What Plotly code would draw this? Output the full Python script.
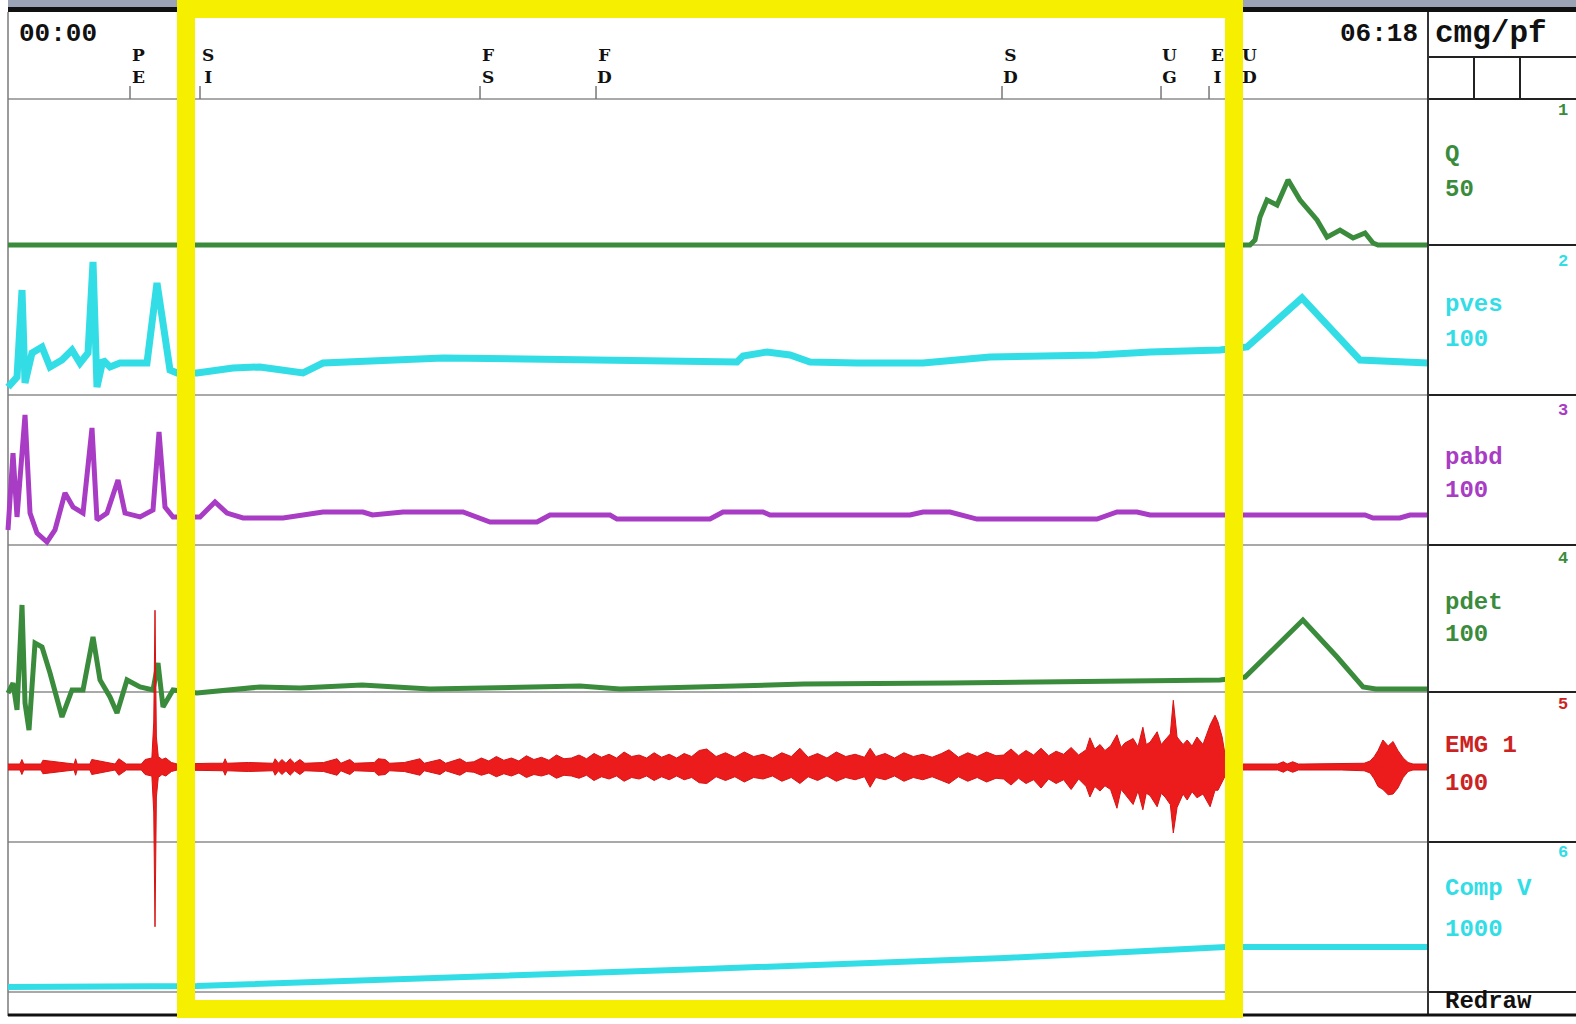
import plotly.graph_objects as go

# ---------------- data ----------------
channels = ["Q", "pves", "pabd", "pdet", "EMG 1", "Comp V"]
channel_scales = ["50", "100", "100", "100", "100", "1000"]
channel_numbers = ["1", "2", "3", "4", "5", "6"]
start_label = "00:00"
end_label = "06:18"
study_label = "cmg/pf"
button_label = "Redraw"
T_END = 378  # seconds (06:18)

event_names = ["PE", "SI", "FS", "FD", "SD", "UG", "EI", "UD"]
event_t = [32.48, 51.11, 125.65, 156.53, 264.6, 306.93, 319.71, 328.4]

# Q (ml/s)
q_t = [0, 330.62, 331.95, 333.28, 335.14, 337.81, 340.74, 343.93, 348.46, 351.12,
       354.58, 358.04, 361.24, 363.37, 364.69, 378]
q_v = [0, 0, 1.7, 9.6, 15.4, 13.7, 22.3, 15.4, 8.6, 2.7, 5.1, 2.4, 4.1, 0.7, 0, 0]

# pves (cmH2O)
pves_t = [0, 2.4, 3.73, 4.53, 6.39, 9.05, 11.18, 14.37, 17.04, 19.17, 21.3, 22.63, 23.69,
          25.29, 27.15, 29.81, 37.0, 39.66, 41.26, 43.12, 44.99, 50.31, 59.9, 67.08, 78.53,
          83.85, 115.8, 194.06, 195.66, 202.05, 208.17, 213.49, 226.0, 243.57, 261.41, 290.0,
          304.0, 322.63, 329.82, 344.46, 359.9, 378]
pves_v = [5.3, 12, 70, 8, 28, 32, 18.7, 23.3, 30, 21.3, 28, 88.7, 5.3, 23.3, 18.7, 21.3,
          21.3, 74.7, 48, 16.7, 14.7, 14.7, 18, 18.7, 14.7, 21.3, 24.7, 22, 26, 28.7, 26.7,
          22, 21.3, 21.3, 25.3, 26.7, 28.7, 30, 32, 64.7, 23.3, 21.3]

# pabd (cmH2O)
pabd_t = [0, 1.33, 2.40, 4.53, 5.86, 7.72, 10.38, 12.51, 15.17, 17.30, 19.97, 22.36, 23.69,
          26.35, 29.28, 31.15, 35.14, 38.60, 40.20, 41.79, 43.92, 51.11, 55.10, 58.30, 62.56,
          73.21, 83.85, 94.50, 97.0, 105.15, 121.12, 128.31, 140.82, 144.28, 160.25, 162.12,
          186.87, 190.33, 200.98, 202.84, 240.11, 243.57, 250.76, 257.95, 289.89, 295.21,
          300.53, 304.0, 361.24, 363.37, 370.5, 373.2, 378]
pabd_v = [10, 61.3, 18.7, 86.7, 21.3, 8, 2, 10, 34.7, 25.3, 21.3, 78, 16.7, 21.3, 43.3, 21.3,
          18.7, 23.3, 75.3, 25.3, 18.7, 18.7, 28.7, 21.3, 18, 18, 22, 22, 20, 22, 22, 15.3,
          15.3, 20, 20, 17.3, 17.3, 22, 22, 20, 20, 22, 22, 17.3, 17.3, 22, 22, 20, 20, 18,
          18, 20, 20]

# pdet (cmH2O)
pdet_t = [0, 1.33, 2.40, 3.73, 4.53, 5.59, 7.19, 9.05, 11.18, 14.37, 17.04, 19.97, 22.63,
          24.49, 27.15, 29.02, 31.68, 35.14, 38.60, 39.93, 41.26, 43.92, 50.31, 59.90, 67.08,
          77.73, 94.23, 112.34, 152.26, 162.91, 184.2, 211.9, 250.8, 290.7, 322.6, 329.3,
          344.7, 353.8, 360.7, 364.1, 378]
pdet_v = [-0.7, 6.1, -12.2, 59.2, -7.5, -25.9, 33.3, 30.6, 12.9, -17, 1.4, 1.4, 37.4, 8.2,
          -3.4, -14.3, 8.2, 3.4, 1.4, 19.7, -10.2, 1.4, -0.7, 1.4, 3.4, 2.7, 4.8, 2, 4.1, 2,
          3.4, 5.4, 6.1, 7.5, 8.2, 10.2, 49, 23.8, 3.4, 2, 2]

# Comp V (ml)
vol_t = [0, 44.99, 50.31, 185.3, 265.4, 324.2, 329.3, 378]
vol_v = [33, 33, 40, 153, 227, 300, 300, 300]

# EMG 1 envelope (uV): upper / lower peaks, segment by segment
emg_pre_t = [0, 3.2, 3.7, 4.2, 8.8, 9.3, 17.6, 18.0, 18.4, 21.8, 22.3, 28.5, 29.5, 30.5,
             31.5, 35.5, 36.5, 38.3, 38.8, 39.13, 39.5, 40.0, 41.0, 42.0, 43.5, 45.0]
emg_pre_up = [4, 4, 10, 4, 4, 9, 4, 11, 4, 4, 10, 4, 11, 8, 4, 4, 10, 12, 60, 209, 40, 14,
              10, 12, 6, 4]
emg_pre_lo = [-4, -4, -10, -4, -4, -9, -4, -11, -4, -4, -10, -4, -11, -8, -4, -4, -10, -12,
              -60, -213, -40, -14, -10, -12, -6, -4]

emg_fill_a_t = [49.8, 54.0, 57.3, 57.8, 58.3, 64.0, 70.6, 71.1, 72.0, 72.9, 74.0, 75.1, 76.3,
                77.7, 79.0, 84.0, 87.6, 88.6, 91.0, 92.2, 97.5, 98.5, 100.4, 101.6, 105.5,
                109.7, 110.8, 115.0, 116.5, 120.3, 122.0]
emg_fill_a_up = [5, 5, 5, 11, 5, 6, 5, 11, 5, 10, 5, 11, 5, 10, 5, 6, 11, 5, 10, 5, 6, 11,
                 10, 5, 6, 11, 5, 10, 5, 11, 6]
emg_fill_a_lo = [-5, -5, -5, -11, -5, -6, -5, -11, -5, -10, -5, -11, -5, -10, -5, -6, -11,
                 -5, -10, -5, -6, -11, -10, -5, -6, -11, -5, -10, -5, -11, -6]

emg_fill_b_t = [124, 126, 128, 130, 132, 134, 136, 138, 140, 142, 144, 146, 148]
emg_fill_b_up = [7, 12, 8, 14, 9, 12, 8, 15, 10, 13, 9, 16, 11]
emg_fill_b_lo = [-7, -11, -8, -13, -9, -12, -8, -14, -10, -12, -9, -15, -11]

emg_fill_c_t = [150, 152, 154, 156, 158, 160, 162, 164, 166, 168, 170, 172, 174, 176, 178,
                180, 182, 184]
emg_fill_c_up = [12, 16, 11, 18, 13, 17, 12, 20, 14, 16, 12, 19, 13, 17, 12, 18, 14, 22]
emg_fill_c_lo = [-12, -15, -11, -18, -13, -16, -12, -19, -14, -16, -12, -18, -13, -17, -12,
                 -17, -14, -21]

emg_fill_d_t = [186, 188.5, 191, 193.5, 196, 198.5, 201, 203.5, 206, 208.5, 210.8, 213,
                215.5, 218, 220.5, 223, 225.5, 228, 229.5, 231, 233.5, 236, 238.5, 241,
                243.5, 246, 248.5, 250.5, 253, 255.5, 258, 260.5, 263]
emg_fill_d_up = [24, 14, 19, 13, 20, 14, 17, 12, 19, 14, 25, 13, 18, 12, 20, 14, 17, 13, 25,
                 14, 18, 12, 19, 14, 17, 13, 18, 23, 13, 19, 14, 20, 15]
emg_fill_d_lo = [-22, -13, -18, -13, -20, -14, -16, -12, -19, -14, -22, -13, -18, -12, -19,
                 -14, -17, -13, -27, -14, -17, -12, -19, -14, -17, -13, -18, -22, -13, -19,
                 -14, -20, -15]

emg_fill_e_t = [265, 267, 269, 271, 273, 275, 277, 279, 281, 283, 285, 287]
emg_fill_e_up = [16, 24, 15, 22, 16, 25, 15, 21, 17, 26, 16, 23]
emg_fill_e_lo = [-16, -24, -15, -22, -17, -28, -16, -22, -17, -30, -16, -26]

emg_burst_t = [288.0, 289.3, 290.7, 292.0, 293.5, 295.2, 296.3, 297.3, 299.5, 300.8, 302.1,
               303.0, 304.0, 305.9, 307.0, 308.0, 309.4, 310.2, 311.2, 312.8, 313.9, 315.2,
               316.5, 318.1, 320.0, 321.3, 322.1, 323.2, 324.2]
emg_burst_up = [39, 24, 30, 22, 28, 43, 26, 32, 38, 27, 53, 30, 33, 47, 30, 36, 44, 89, 40,
                30, 36, 28, 40, 30, 56, 69, 60, 40, 10]
emg_burst_lo = [-40, -26, -32, -25, -30, -55, -30, -36, -50, -32, -57, -35, -38, -53, -35,
                -40, -50, -88, -54, -36, -44, -33, -41, -36, -53, -31, -31, -20, -10]

emg_void_t = [326, 330, 338, 339.5, 340.5, 342, 343.5, 345, 355, 361, 362.6, 363.7, 364.7,
              366.0, 367.4, 368.7, 370.0, 371.4, 372.7, 374.0, 378]
emg_void_up = [4, 4, 4, 7, 4, 7, 4, 4, 4, 5, 8, 14, 22, 36, 28, 34, 22, 12, 6, 4, 4]
emg_void_lo = [-4, -4, -4, -7, -4, -7, -4, -4, -4, -5, -8, -16, -26, -30, -37, -36, -28, -14,
               -6, -4, -4]

emg_t = (emg_pre_t + emg_fill_a_t + emg_fill_b_t + emg_fill_c_t + emg_fill_d_t
         + emg_fill_e_t + emg_burst_t + emg_void_t)
emg_up = (emg_pre_up + emg_fill_a_up + emg_fill_b_up + emg_fill_c_up + emg_fill_d_up
          + emg_fill_e_up + emg_burst_up + emg_void_up)
emg_lo = (emg_pre_lo + emg_fill_a_lo + emg_fill_b_lo + emg_fill_c_lo + emg_fill_d_lo
          + emg_fill_e_lo + emg_burst_lo + emg_void_lo)

# ---------------- layout / style ----------------
W, H = 1576, 1024
X0_PX, X1_PX = 8, 1428          # pixel of t=0 and t=T_END
PX_PER_S = (X1_PX - X0_PX) / T_END
PANEL_X = 1428

GREEN = "#3a8c3c"
CYAN = "#32dde6"
PURPLE = "#a83cc4"
RED = "#ec1c1c"
YELLOW = "#f7ef00"
MONO = "Liberation Mono"


def fx(px):
    return px / W


def fy(py):
    return 1 - py / H


# zero pixel row and pixels per unit for every channel
row_zero = [245, 395, 545, 692, 767, 992]
row_k = [146 / 50, 1.5, 1.5, 1.47, 0.75, 0.15]


def yrange(i):
    return [(row_zero[i] - H) / row_k[i], row_zero[i] / row_k[i]]


fig = go.Figure()

fig.add_trace(go.Scatter(x=vol_t, y=vol_v, mode="lines", yaxis="y6",
                         line=dict(color=CYAN, width=6), hoverinfo="skip"))
fig.add_trace(go.Scatter(x=emg_t + emg_t[::-1], y=emg_up + emg_lo[::-1], mode="lines",
                         yaxis="y5", fill="toself", fillcolor=RED,
                         line=dict(color="#d61414", width=1), hoverinfo="skip"))
fig.add_trace(go.Scatter(x=pdet_t, y=pdet_v, mode="lines", yaxis="y4",
                         line=dict(color=GREEN, width=5), hoverinfo="skip"))
fig.add_trace(go.Scatter(x=pabd_t, y=pabd_v, mode="lines", yaxis="y3",
                         line=dict(color=PURPLE, width=5), hoverinfo="skip"))
fig.add_trace(go.Scatter(x=pves_t, y=pves_v, mode="lines", yaxis="y2",
                         line=dict(color=CYAN, width=7), hoverinfo="skip"))
fig.add_trace(go.Scatter(x=q_t, y=q_v, mode="lines", yaxis="y",
                         line=dict(color=GREEN, width=5), hoverinfo="skip"))

shapes = []


def hline(py, x0, x1, color, width, layer="below"):
    shapes.append(dict(type="line", xref="paper", yref="paper", x0=fx(x0), x1=fx(x1),
                       y0=fy(py), y1=fy(py), line=dict(color=color, width=width),
                       layer=layer))


def vline(px, y0, y1, color, width, layer="below"):
    shapes.append(dict(type="line", xref="paper", yref="paper", x0=fx(px), x1=fx(px),
                       y0=fy(y0), y1=fy(y1), line=dict(color=color, width=width),
                       layer=layer))


# plot-area row separators
for py in [99, 245, 395, 545, 692, 842, 992]:
    hline(py, X0_PX, PANEL_X, "#8c8c8c", 1.5)
vline(X0_PX, 12, 1016, "#7a7a7a", 1.5)

# right panel
for py in [57, 99, 245, 395, 545, 692, 842, 992]:
    hline(py, PANEL_X, W, "#222222", 2, layer="above")
vline(1474, 57, 99, "#222222", 2, layer="above")
vline(1520, 57, 99, "#222222", 2, layer="above")
vline(PANEL_X, 12, 1016, "#333333", 2, layer="above")
hline(1015, X0_PX, W, "#111111", 3, layer="above")

# title bar at top
shapes.append(dict(type="rect", xref="paper", yref="paper", x0=fx(X0_PX), x1=1,
                   y0=fy(7), y1=1, fillcolor="#9ba4b6", line=dict(width=0), layer="above"))
shapes.append(dict(type="rect", xref="paper", yref="paper", x0=fx(X0_PX), x1=1,
                   y0=fy(12), y1=fy(7), fillcolor="#111111", line=dict(width=0),
                   layer="above"))

# event ticks
for t in event_t:
    shapes.append(dict(type="line", xref="x", yref="paper", x0=t, x1=t, y0=fy(99),
                       y1=fy(86), line=dict(color="#777777", width=1.5), layer="below"))

# yellow selection frame
shapes.append(dict(type="rect", xref="paper", yref="paper", x0=fx(186), x1=fx(1234),
                   y0=fy(1009), y1=fy(9), line=dict(color=YELLOW, width=18),
                   fillcolor="rgba(0,0,0,0)", layer="above"))

ann = []


def text(px, py, s, size, color, family=MONO, anchor="left"):
    ann.append(dict(x=fx(px), y=fy(py), xref="paper", yref="paper", text=s,
                    showarrow=False, xanchor=anchor, yanchor="middle", borderpad=0,
                    font=dict(family=family, size=size, color=color, weight="bold")))


text(18, 34, start_label, 26, "#111111")
text(1419, 34, end_label, 26, "#111111", anchor="right")
text(1434, 33, study_label, 31, "#111111")
text(1444, 1001, button_label, 24, "#111111")

# event letters, stacked two per event
for name, t in zip(event_names, event_t):
    ann.append(dict(x=t, y=fy(66), xref="x", yref="paper", text="<br>".join(name),
                    showarrow=False, xanchor="center", yanchor="middle", xshift=8,
                    borderpad=0,
                    font=dict(family="DejaVu Serif", size=17, color="#111111",
                              weight="bold")))

label_colors = [GREEN, CYAN, PURPLE, GREEN, "#cc2222", CYAN]
label_py = [154, 304, 457, 602, 745, 888]
scale_py = [189, 339, 490, 634, 783, 929]
number_py = [110, 261, 410, 558, 704, 852]
for i in range(6):
    text(1444, label_py[i], channels[i], 24, label_colors[i])
    text(1444, scale_py[i], channel_scales[i], 24, label_colors[i])
    text(1557, number_py[i], channel_numbers[i], 17, label_colors[i])

layout = dict(
    width=W, height=H, margin=dict(l=0, r=0, t=0, b=0),
    paper_bgcolor="white", plot_bgcolor="rgba(0,0,0,0)", showlegend=False,
    xaxis=dict(range=[-X0_PX / PX_PER_S, (W - X0_PX) / PX_PER_S], visible=False,
               domain=[0, 1], fixedrange=True),
    shapes=shapes, annotations=ann,
)
for i in range(6):
    key = "yaxis" if i == 0 else "yaxis%d" % (i + 1)
    ax = dict(range=yrange(i), visible=False, domain=[0, 1], fixedrange=True)
    if i > 0:
        ax["overlaying"] = "y"
    layout[key] = ax
fig.update_layout(**layout)

fig.write_html("out.html", config={"displayModeBar": False})
